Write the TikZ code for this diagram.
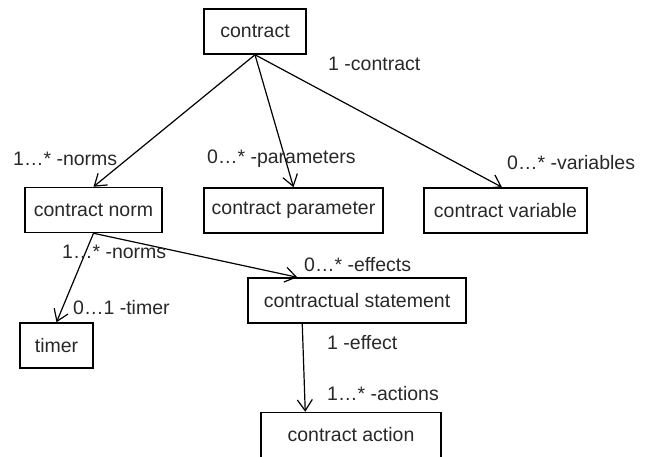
\documentclass[tikz,border=0pt]{standalone}
\usepackage{fontspec}
\setmainfont{Liberation Sans}
\usetikzlibrary{positioning,arrows.meta,calc}
\definecolor{txtC}{RGB}{40,40,40}

\begin{document}
\begin{tikzpicture}[
  x=1pt, y=-1pt,
  cls/.style={draw, line width=1.5pt, minimum height=45pt, inner sep=0pt,
              align=center, text=txtC, font=\fontsize{19.5}{23}\selectfont},
  assoc/.style={-{Straight Barb[length=11pt, width=15pt]}, line width=1.2pt},
  role/.style={anchor=west, inner sep=0pt, text=txtC,
               font=\fontsize{19.5}{23}\selectfont},
]
\useasboundingbox (0,0) rectangle (654,456);

% ---------------- classes ----------------
\node[cls, minimum width=102pt] (contract) at (255,31.5)  {contract};
\node[cls, minimum width=137pt] (norm)     at (93.5,210)  {contract norm};
\node[cls, minimum width=179pt] (param)    at (293.5,210.5) {contract parameter};
\node[cls, minimum width=163pt] (var)      at (505.5,210.5) {contract variable};
\node[cls, minimum width=218pt] (stmt)     at (357,300.5) {contractual statement};
\node[cls, minimum width=73pt]  (timer)    at (56.5,345.5) {timer};
\node[cls, minimum width=180pt] (action)   at (351,435) {contract action};

% ---------------- associations ----------------
\draw[assoc] (contract.south) -- (norm.north);
\draw[assoc] (contract.south) -- (param.north);
\draw[assoc] (contract.south) -- ([xshift=-3.5pt]var.north);
\draw[assoc] (norm.south) -- (timer.north);
\draw[assoc] (norm.south) -- ([xshift=50pt]stmt.north west);
\draw[assoc] ([xshift=55pt]stmt.south west) -- ([xshift=45pt]action.north west);

% ---------------- role names ----------------
\node[role] (rContract)  at (328,64)  {1 -contract};
\node[role] (rNorms)     at (13,159)  {1…* -norms};
\node[role] (rParams)    at (207,159) {0…* -parameters};
\node[role] (rVars)      at (507,163) {0…* -variables};
\node[role] (rNormsB)    at (62,252)  {1…* -norms};
\node[role] (rEffects)   at (304,265) {0…* -effects};
\node[role] (rTimer)     at (73,308)  {0…1 -timer};
\node[role] (rEffect)    at (327,343) {1 -effect};
\node[role] (rActions)   at (327,394) {1…* -actions};

\end{tikzpicture}
\end{document}
